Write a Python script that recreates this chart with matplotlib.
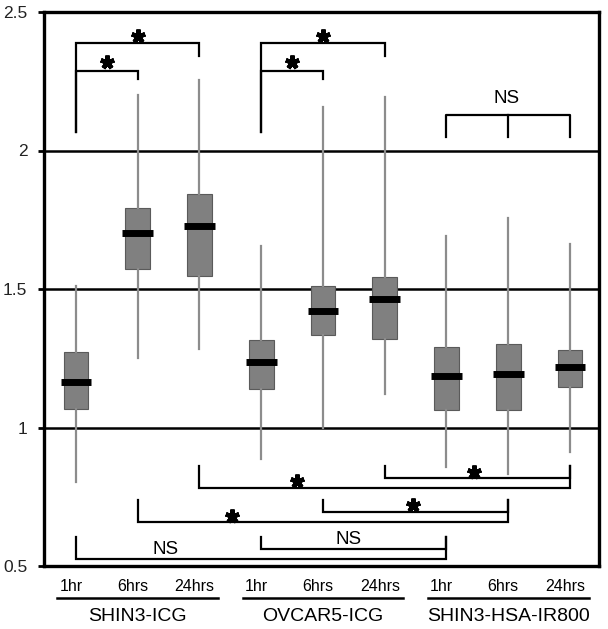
import numpy as np
import matplotlib
matplotlib.use("Agg")
import matplotlib.pyplot as plt

plt.rcParams['font.family'] = ['Liberation Sans', 'DejaVu Sans']

groups = ['SHIN3-ICG', 'OVCAR5-ICG', 'SHIN3-HSA-IR800']
times = ['1hr', '6hrs', '24hrs']

whishi = [1.51, 2.20, 2.255, 1.654, 2.156, 2.192, 1.692, 1.757, 1.662]
q3 = [1.271, 1.791, 1.842, 1.316, 1.510, 1.542, 1.289, 1.301, 1.280]
med = [1.163, 1.703, 1.729, 1.235, 1.422, 1.464, 1.185, 1.193, 1.220]
q1 = [1.066, 1.573, 1.548, 1.138, 1.333, 1.321, 1.064, 1.062, 1.145]
whislo = [0.802, 1.25, 1.283, 0.885, 1.0, 1.121, 0.856, 0.832, 0.913]

# significance brackets: (left box, right box, bar level, end level left, end level right)
brackets = [
    (1, 3, 2.387, 2.066, 2.342),
    (1, 2, 2.288, 2.066, 2.258),
    (4, 6, 2.387, 2.066, 2.342),
    (4, 5, 2.288, 2.066, 2.258),
    (3, 9, 0.780, 0.862, 0.862),
    (6, 9, 0.817, 0.862, 0.862),
    (2, 8, 0.658, 0.738, 0.738),
    (5, 8, 0.696, 0.738, 0.738),
    (1, 7, 0.524, 0.604, 0.604),
    (4, 7, 0.561, 0.604, 0.604),
]
stars = [(2.0, 2.412), (1.5, 2.320), (5.0, 2.412), (4.5, 2.320),
         (4.58, 0.806), (7.45, 0.840), (3.53, 0.680), (6.46, 0.722)]
ns_labels = [(2.45, 0.560), (5.42, 0.596), (7.98, 2.186)]

pos = np.arange(1, 10)
stats = []
for i in range(9):
    stats.append(dict(whislo=whislo[i], q1=q1[i], med=med[i], q3=q3[i],
                      whishi=whishi[i], fliers=[]))

fig = plt.figure(figsize=(6.08, 6.29), dpi=100)
ax = fig.add_axes([44 / 608, 1 - 566 / 629, 555 / 608, 554 / 629])

for yv in [1.0, 1.5, 2.0]:
    ax.axhline(yv, color='black', lw=1.8, zorder=0)

ax.bxp(stats, positions=pos, widths=0.4, patch_artist=True, showcaps=False,
       boxprops=dict(facecolor='#808080', edgecolor='#5a5a5a', linewidth=0.8),
       whiskerprops=dict(color='#8c8c8c', linewidth=1.6),
       medianprops=dict(linewidth=0), showfliers=False)
ax.hlines(med, pos - 0.25, pos + 0.25, color='black', lw=5, zorder=4)

for a, b, yb, ya, yc in brackets:
    ax.plot([a, a, b, b], [ya, yb, yb, yc], color='black', lw=1.6,
            solid_joinstyle='miter', zorder=5)
# NS bracket over last group
ax.plot([7, 7, 9, 9], [2.048, 2.128, 2.128, 2.048], color='black', lw=1.6, zorder=5)
ax.plot([8, 8], [2.048, 2.128], color='black', lw=1.6, zorder=5)

for sx, sy in stars:
    ax.plot(sx, sy, marker=(5, 2, 0), ms=10, mew=3.2, color='black', zorder=6)
for nx, ny in ns_labels:
    ax.text(nx, ny, 'NS', ha='center', va='center', fontsize=13.5, zorder=6)

ax.set_xlim(0.482, 9.47)
ax.set_ylim(0.5, 2.5)
ax.set_yticks([0.5, 1, 1.5, 2, 2.5])
ax.set_yticklabels(['0.5', '1', '1.5', '2', '2.5'])
ax.set_xticks([])
ax.tick_params(axis='y', labelsize=12.5, length=4, width=2, pad=8,
               labelcolor='#222222')
for s in ax.spines.values():
    s.set_linewidth(2.4)

trans = ax.get_xaxis_transform()
for g in range(3):
    for t in range(3):
        ax.text(pos[g * 3 + t] - 0.08, -0.046, times[t], transform=trans,
                ha='center', va='baseline', fontsize=11.5, clip_on=False)
    c = pos[g * 3 + 1]
    ax.plot([c - 1.3, c + 1.3], [-0.058, -0.058], transform=trans, color='black',
            lw=1.8, clip_on=False)
    ax.text(c, -0.0915, groups[g], transform=trans, ha='center', va='center',
            fontsize=14, clip_on=False)

fig.savefig('out.png', dpi=100)
